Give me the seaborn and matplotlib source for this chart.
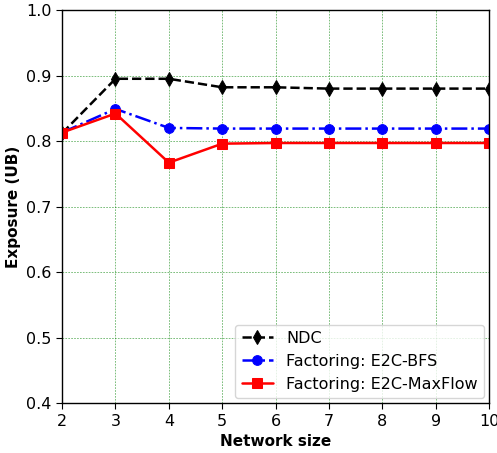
import matplotlib
matplotlib.use("Agg")
import matplotlib.pyplot as plt
import seaborn as sns
import pandas as pd

sizes = [2, 3, 4, 5, 6, 7, 8, 9, 10]
ndc = [0.812, 0.895, 0.895, 0.882, 0.882, 0.880, 0.880, 0.880, 0.880]
bfs = [0.813, 0.849, 0.820, 0.819, 0.819, 0.819, 0.819, 0.819, 0.819]
maxflow = [0.813, 0.842, 0.767, 0.796, 0.797, 0.797, 0.797, 0.797, 0.797]
series_names = ["NDC", "Factoring: E2C-BFS", "Factoring: E2C-MaxFlow"]

sns.set_style("white")
plt.rcParams['font.family'] = ['DejaVu Sans']
plt.rcParams['text.color'] = 'black'
plt.rcParams['axes.labelcolor'] = 'black'
plt.rcParams['xtick.color'] = 'black'
plt.rcParams['ytick.color'] = 'black'

df = pd.DataFrame({
    "size": sizes * 3,
    "value": ndc + bfs + maxflow,
    "series": [series_names[0]] * 9 + [series_names[1]] * 9 + [series_names[2]] * 9,
})

fig, ax = plt.subplots(figsize=(4.97, 4.53), dpi=100)
styles = {
    series_names[0]: dict(color="black", linestyle="--", marker="d", markersize=7.5, linewidth=1.8,
                          markeredgecolor="black"),
    series_names[1]: dict(color="blue", linestyle="-.", marker="o", markersize=7, linewidth=1.8,
                          markeredgecolor="blue"),
    series_names[2]: dict(color="red", linestyle="-", marker="s", markersize=7, linewidth=1.8,
                          markeredgecolor="red"),
}
for name in series_names:
    sub = df[df["series"] == name]
    sns.lineplot(data=sub, x="size", y="value", ax=ax, label=name, **styles[name])

ax.set_xlim(2, 10)
ax.set_ylim(0.4, 1.0)
ax.set_xticks(sizes)
ax.set_yticks([0.4, 0.5, 0.6, 0.7, 0.8, 0.9, 1.0])
ax.grid(True, color="green", linestyle="--", linewidth=0.6, alpha=0.6, dashes=(2, 1.5))
ax.set_axisbelow(True)
ax.tick_params(axis="both", labelsize=11.5, direction="out", length=4, left=True, bottom=True,
               colors="black")
ax.set_xlabel("Network size", fontsize=11, fontweight="bold")
ax.set_ylabel("Exposure (UB)", fontsize=11, fontweight="bold")
for s in ax.spines.values():
    s.set_color("black")
    s.set_linewidth(1.0)
leg = ax.legend(loc="lower right", fontsize=11.5, frameon=True, borderaxespad=0.3)
leg.get_frame().set_edgecolor("#cccccc")
fig.subplots_adjust(left=0.125, right=0.984, top=0.978, bottom=0.11)
fig.savefig("out.png", dpi=100)
